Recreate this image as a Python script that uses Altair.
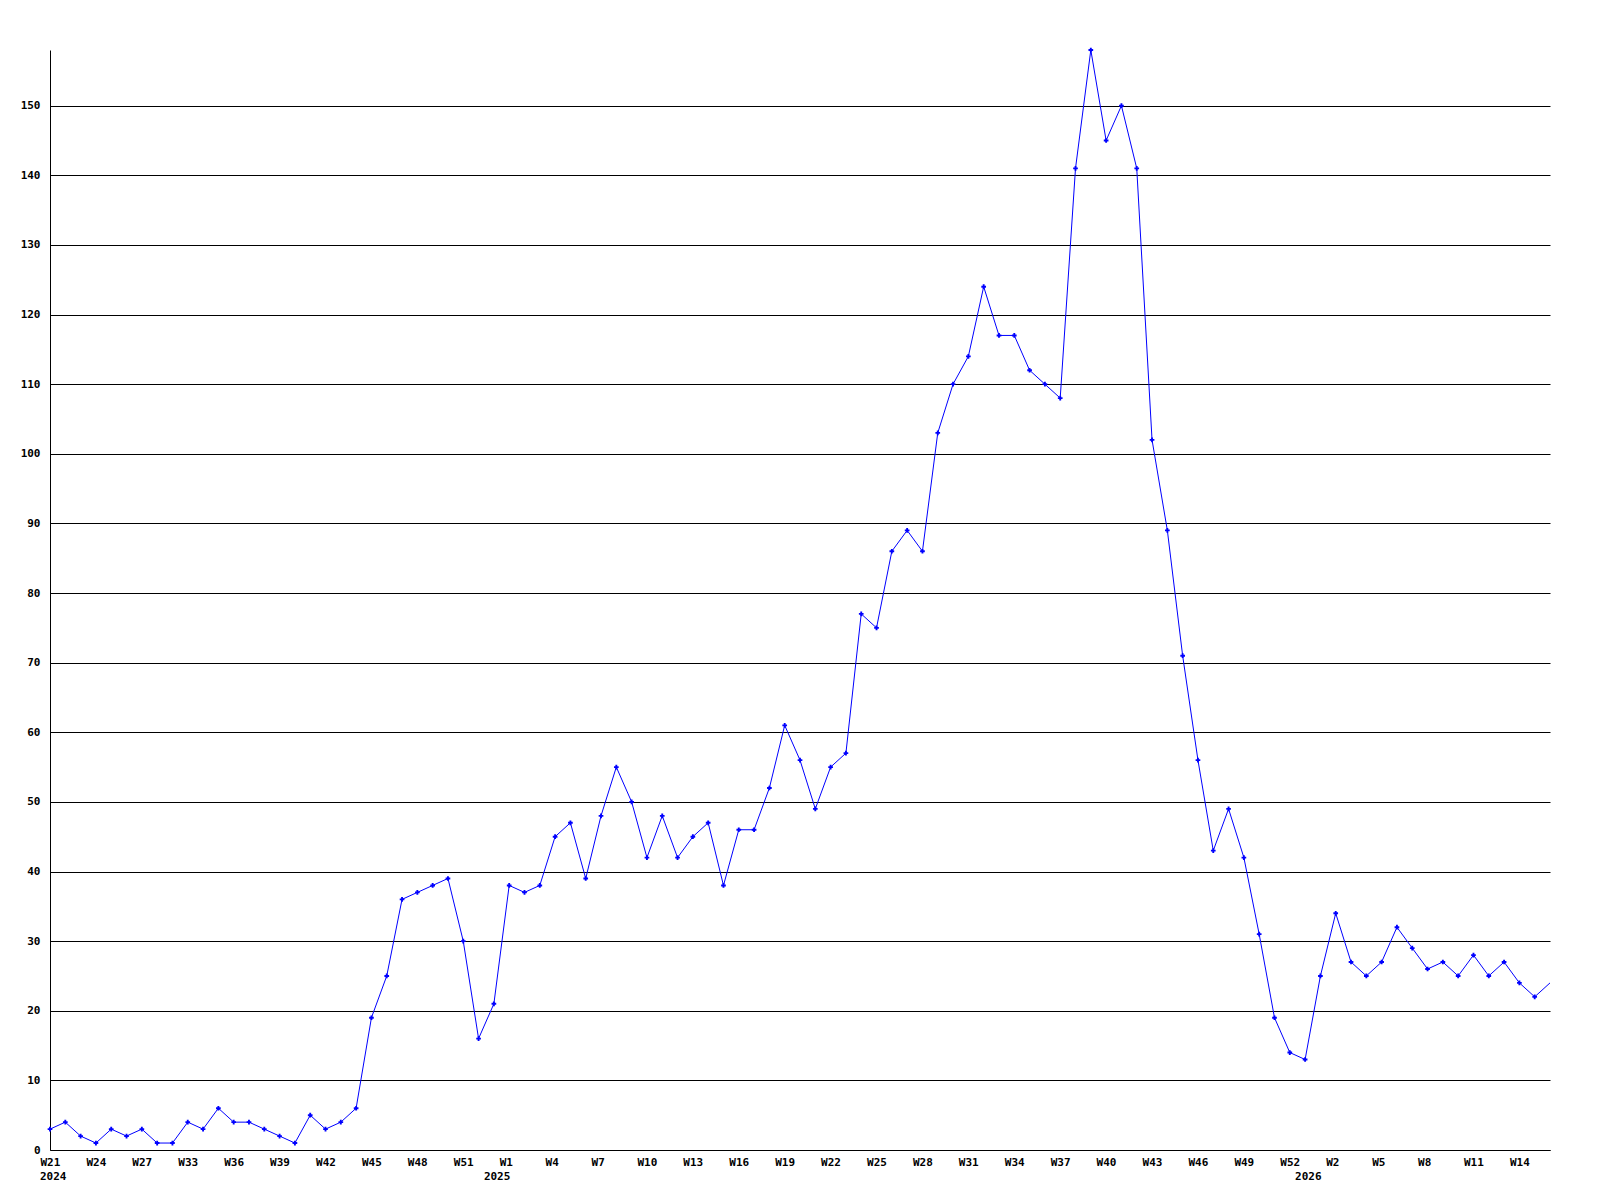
import json
import altair as alt
import pandas as pd

# weekly values, one per data point (index 0 = W21 2024)
values = [3, 4, 2, 1, 3, 2, 3, 1, 1, 4, 3, 6, 4, 4, 3, 2, 1, 5, 3, 4, 6,
          19, 25, 36, 37, 38, 39, 30, 16, 21, 38,
          37, 38, 45, 47, 39, 48, 55, 50, 42, 48,
          42, 45, 47, 38, 46, 46, 52, 61, 56, 49,
          55, 57, 77, 75, 86, 89, 86, 103, 110, 114,
          124, 117, 117, 112, 110, 108, 141, 158, 145, 150,
          141, 102, 89, 71, 56, 43, 49, 42, 31, 19,
          14, 13, 25, 34, 27, 25, 27, 32, 29, 26,
          27, 25, 28, 25, 27, 24, 22, 24]

# x tick labels (every third data point)
tick_index = list(range(0, 97, 3))
tick_labels = ["W21", "W24", "W27", "W33", "W36", "W39", "W42", "W45", "W48", "W51",
               "W1", "W4", "W7", "W10", "W13", "W16", "W19", "W22", "W25", "W28",
               "W31", "W34", "W37", "W40", "W43", "W46", "W49", "W52",
               "W2", "W5", "W8", "W11", "W14"]

# year labels: first data point of each year
year_index = [0, 29, 82]
year_labels = ["2024", "2025", "2026"]

y_ticks = list(range(0, 151, 10))

FONT = "DejaVu Sans Mono"
BLUE = "#0000ff"
W, H = 1500, 1100
n = len(values)

df = pd.DataFrame({"i": list(range(n)), "v": values})
ydf = pd.DataFrame({"i": year_index, "t": year_labels})

label_map = {str(k): t for k, t in zip(tick_index, tick_labels)}
label_expr = json.dumps(label_map) + "[toString(datum.value)]"

x_scale = alt.Scale(domain=[0, n - 1], nice=False, zero=False)
y_scale = alt.Scale(domain=[0, 158], nice=False)

x_enc = alt.X(
    "i:Q", scale=x_scale,
    axis=alt.Axis(values=tick_index, labelExpr=label_expr, grid=False, ticks=False,
                  domainColor="black", domainWidth=1, labelFont=FONT, labelFontSize=11,
                  labelFontWeight="bold", labelColor="black", labelAlign="left",
                  labelOffset=-10, labelPadding=6, labelFlush=False, labelOverlap=False,
                  labelBound=False, title=None),
)
y_enc = alt.Y(
    "v:Q", scale=y_scale,
    axis=alt.Axis(values=y_ticks, grid=True, gridColor="black", gridWidth=1, gridOpacity=1,
                  ticks=False, domainColor="black", domainWidth=1, labelFont=FONT,
                  labelFontSize=11, labelFontWeight="bold", labelColor="black",
                  labelPadding=10, labelFlush=False, title=None),
)

base = alt.Chart(df)
line = base.mark_line(color=BLUE, strokeWidth=1).encode(x=x_enc, y=y_enc)
pts = base.mark_point(shape="cross", filled=True, size=22, color=BLUE, opacity=1).encode(
    x=alt.X("i:Q", scale=x_scale), y=alt.Y("v:Q", scale=y_scale)
).transform_filter(f"datum.i < {n - 1}")

years = alt.Chart(ydf).mark_text(
    align="left", baseline="middle", dx=-10, font=FONT, fontSize=11,
    fontWeight="bold", color="black"
).encode(x=alt.X("i:Q", scale=x_scale), y=alt.value(H + 27), text="t:N")

chart = alt.layer(line, pts, years).properties(
    width=W, height=H,
    autosize=alt.AutoSizeParams(type="none"),
    padding={"left": 42, "top": 42, "right": 42, "bottom": 42},
    background="white",
).configure_view(stroke=None)

chart.save("out.html", embed_options={"renderer": "svg", "actions": False})
